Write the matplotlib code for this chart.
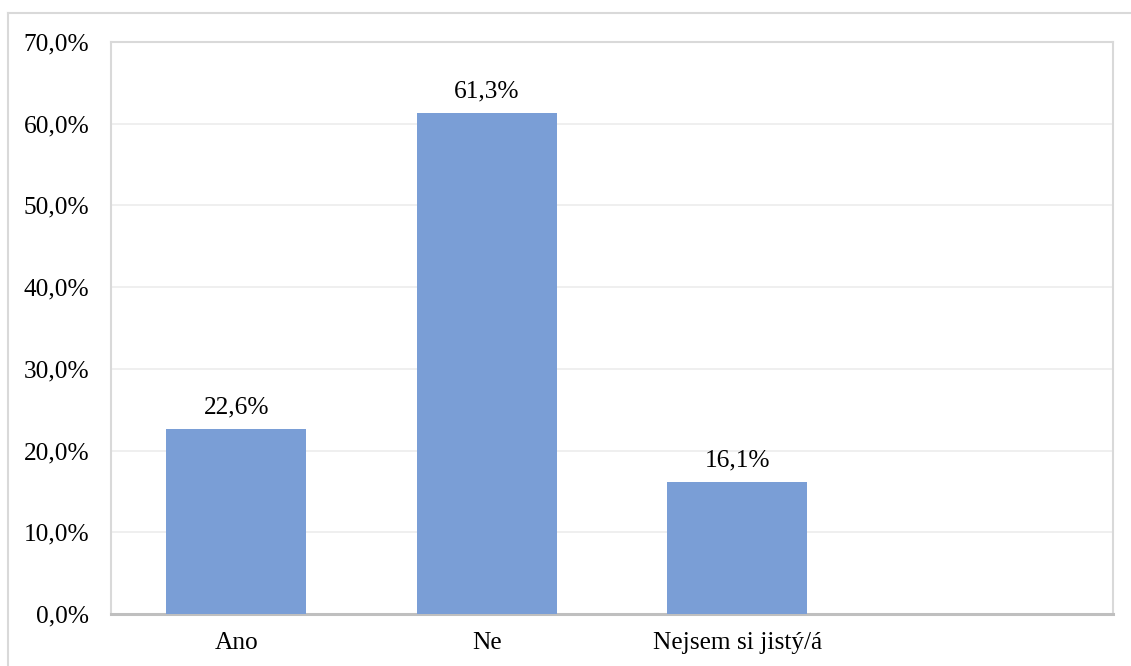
import matplotlib
matplotlib.use("Agg")
import matplotlib.pyplot as plt
from matplotlib.lines import Line2D

categories = ["Ano", "Ne", "Nejsem si jistý/á"]
values = [22.6, 61.3, 16.1]
yticks = [0, 10, 20, 30, 40, 50, 60, 70]
ytick_labels = ["0,0%", "10,0%", "20,0%", "30,0%", "40,0%", "50,0%", "60,0%", "70,0%"]
n_slots = 4

plt.rcParams['font.family'] = ['Liberation Serif', 'DejaVu Serif']
W, H = 1131, 666
FS = 18.3
fig = plt.figure(figsize=(W / 100, H / 100), dpi=100)
fig.patch.set_facecolor("white")

# outer chart border (top and left visible)
bx, by = 8 / W, 1 - 13 / H
fig.add_artist(Line2D([bx, 1.0], [by, by], transform=fig.transFigure, color="#d9d9d9", lw=1.5))
fig.add_artist(Line2D([bx, bx], [0, by], transform=fig.transFigure, color="#d9d9d9", lw=1.5))

ax = fig.add_axes([111 / W, 1 - 614 / H, (1113 - 111) / W, (614 - 42) / H])
x = list(range(len(categories)))
bars = ax.bar(x, values, width=0.56, color="#7a9ed6", zorder=3)

ax.set_xlim(-0.5, n_slots - 0.5)
ax.set_ylim(0, 70)
ax.set_yticks(yticks)
ax.set_yticklabels(ytick_labels, fontsize=FS)
ax.set_xticks(x)
ax.set_xticklabels(categories, fontsize=FS)
ax.tick_params(axis="both", length=0, colors="black")
ax.tick_params(axis="y", pad=15.5)
ax.tick_params(axis="x", pad=13)
ax.grid(axis="y", color="#ececec", lw=1.2, zorder=0)
ax.set_axisbelow(True)

for side in ["left", "top", "right"]:
    ax.spines[side].set_color("#d9d9d9")
    ax.spines[side].set_linewidth(1.5)
ax.spines["bottom"].set_color("#bfbfbf")
ax.spines["bottom"].set_linewidth(2.2)

for b, v in zip(bars, values):
    ax.annotate(f"{v:.1f}%".replace(".", ","), (b.get_x() + b.get_width() / 2, v),
                xytext=(0, 11.5), textcoords="offset points", ha="center", va="baseline",
                fontsize=FS)

fig.savefig("out.png", dpi=100, facecolor="white")
